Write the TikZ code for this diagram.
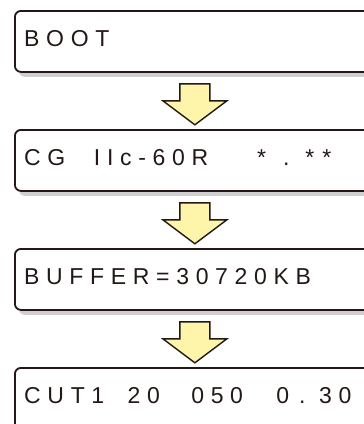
\documentclass[tikz,border=0pt]{standalone}
\usepackage{fontspec}
\setmainfont{Liberation Sans}[LetterSpace=29]
\usetikzlibrary{calc,shadows}
\definecolor{lineblk}{HTML}{231815}
\definecolor{arrowfill}{HTML}{FFF5AA}
\definecolor{shadowgray}{HTML}{CFCFCF}
\tikzset{
  dispbox/.style={draw=lineblk, line width=1.8pt, rounded corners=6pt, fill=white,
    minimum width=360pt, minimum height=61pt, anchor=north west, inner sep=0pt,
    drop shadow={shadow xshift=4pt, shadow yshift=-5pt, fill=shadowgray, opacity=1}},
  disptext/.style={anchor=base west, inner sep=0pt, text=lineblk,
    font=\fontsize{23pt}{26pt}\selectfont},
  blockarrow/.style={draw=lineblk, line width=1.4pt, fill=arrowfill, line join=miter}
}
\newcommand{\blockarrowfrom}[1]{%
  \draw[blockarrow] ($(#1.south)+(-15,11)$) -- ++(30,0) -- ++(0,17) -- ++(17,0)
    -- ++(-32,24) -- ++(-32,-24) -- ++(17,0) -- cycle;}
\begin{document}
\begin{tikzpicture}[x=1pt,y=-1pt]
\useasboundingbox (0,0) rectangle (364,424);
\clip (0,0) rectangle (364,424);
\node[dispbox] (b1) at (14,10) {};
\node[dispbox] (b2) at (14,129) {};
\node[dispbox] (b3) at (14,248) {};
\node[dispbox] (b4) at (14,367) {};
\node[disptext] (t1) at ($(b1.north west)+(10,36)$) {BOOT};
\node[disptext] (t2) at ($(b2.north west)+(10,36)$) {CG\hspace{28.6pt}IIc-60R\hspace{49pt}*\kern17pt.\kern16pt*\kern8pt*};
\node[disptext] (t3) at ($(b3.north west)+(10,36)$) {BUFFER=30720KB};
\node[disptext] (t4) at ($(b4.north west)+(10,36)$) {CUT1\hspace{23.3pt}20\hspace{31.5pt}050\hspace{33.3pt}0\kern10pt.\kern13.6pt30};
\blockarrowfrom{b1}
\blockarrowfrom{b2}
\blockarrowfrom{b3}
\end{tikzpicture}
\end{document}
